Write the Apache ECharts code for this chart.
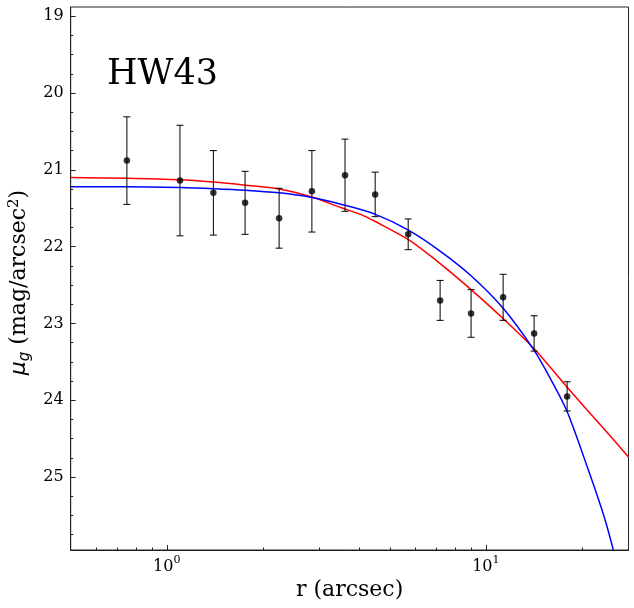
<!DOCTYPE html>
<html>
<head>
<meta charset="utf-8">
<script src="https://cdn.jsdelivr.net/npm/echarts@6/dist/echarts.min.js"></script>
<style>
html, body { margin: 0; padding: 0; background: #fff; }
#chart { width: 634px; height: 608px; }
</style>
</head>
<body>
<div id="chart"></div>
<script>
// measured profile (r in arcsec, mu_g in mag/arcsec^2)
var radius = [0.75, 1.10, 1.40, 1.76, 2.25, 2.85, 3.62, 4.50, 5.71, 7.19, 8.99, 11.33, 14.17, 17.98];
var mu = [20.88, 21.14, 21.30, 21.43, 21.63, 21.28, 21.07, 21.32, 21.84, 22.70, 22.87, 22.66, 23.13, 23.95];
var muErr = [0.57, 0.72, 0.55, 0.41, 0.39, 0.53, 0.47, 0.29, 0.20, 0.26, 0.31, 0.30, 0.23, 0.19];

// fitted model curves
var redR = [0.5, 0.75, 1.10, 1.40, 1.76, 2.25, 2.85, 3.51, 4.05, 4.49, 5.72, 7.24, 8.99, 11.35, 14.17, 17.99, 20.8, 25.1, 28.0];
var redMu = [21.10, 21.11, 21.13, 21.16, 21.20, 21.25, 21.355, 21.49, 21.58, 21.67, 21.91, 22.23, 22.56, 22.94, 23.33, 23.83, 24.13, 24.51, 24.74];
var blueR = [0.5, 0.75, 1.10, 1.40, 1.76, 2.25, 2.85, 3.51, 4.49, 5.72, 7.24, 8.99, 11.35, 14.17, 15.99, 17.99, 20.8, 23.5, 25.1];
var blueMu = [21.22, 21.22, 21.23, 21.245, 21.265, 21.30, 21.36, 21.447, 21.577, 21.786, 22.068, 22.38, 22.806, 23.35, 23.73, 24.15, 24.87, 25.52, 25.95];

var xMajor = [1, 10];
var xMinor = [0.6, 0.7, 0.8, 0.9, 2, 3, 4, 5, 6, 7, 8, 9, 20];
var yMajor = [19, 20, 21, 22, 23, 24, 25];
var yMinor = [19.25, 19.5, 19.75, 20.25, 20.5, 20.75, 21.25, 21.5, 21.75, 22.25, 22.5, 22.75,
  23.25, 23.5, 23.75, 24.25, 24.5, 24.75, 25.25, 25.5, 25.75];

var serif = 'DejaVu Serif';
var myChart = echarts.init(document.getElementById('chart'));

var points = radius.map(function (r, i) { return [r, mu[i]]; });
var bars = radius.map(function (r, i) { return [r, mu[i] - muErr[i], mu[i] + muErr[i]]; });

myChart.setOption({
	animation: false,
	backgroundColor: '#fff',
	title: {
		text: 'HW43',
		left: 102,
		top: 52,
		textStyle: { fontFamily: serif, fontSize: 35, fontWeight: 'normal', color: '#000' }
	},
	grid: {
		left: 70.7, right: 5.5, top: 7, bottom: 58, outerBoundsMode: 'none',
		show: true, borderColor: '#222', borderWidth: 1, backgroundColor: 'transparent'
	},
	xAxis: [{
		type: 'log', logBase: 10, min: 0.5, max: 28,
		name: 'r (arcsec)', nameLocation: 'middle', nameGap: 27,
		nameTextStyle: { fontFamily: serif, fontSize: 22, color: '#000' },
		axisLine: { lineStyle: { color: '#222', width: 1 } },
		axisTick: { inside: true, length: 5, customValues: xMajor, lineStyle: { color: '#222' } },
		axisLabel: {
			customValues: xMajor, margin: 5,
			fontFamily: serif, fontSize: 16, color: '#000',
			formatter: function (v) { return '10{sup|' + Math.round(Math.log10(v)) + '}'; },
			rich: { sup: { fontFamily: serif, fontSize: 11, color: '#000', padding: [0, 0, 12, 0] } }
		},
		splitLine: { show: false }
	}, {
		type: 'log', logBase: 10, min: 0.5, max: 28, position: 'bottom',
		axisLine: { show: false },
		axisTick: { inside: true, length: 2.5, customValues: xMinor, lineStyle: { color: '#222' } },
		axisLabel: { show: false },
		splitLine: { show: false }
	}],
	yAxis: [{
		type: 'value', inverse: true, min: 18.88, max: 25.95,
		name: '{mu|μ}{sub|g} (mag/arcsec{sup|2})', nameLocation: 'middle', nameGap: 34, nameRotate: 90,
		nameTextStyle: {
			fontFamily: serif, fontSize: 22, color: '#000', padding: [0, 8, 0, 0],
			rich: {
				mu: { fontFamily: 'DejaVu Sans', fontStyle: 'italic', fontSize: 22, color: '#000' },
				sub: { fontFamily: 'DejaVu Sans', fontStyle: 'italic', fontSize: 15, color: '#000', padding: [11, 0, 0, 0] },
				sup: { fontFamily: serif, fontSize: 15, color: '#000', padding: [0, 0, 11, 0] }
			}
		},
		axisLine: { show: true, lineStyle: { color: '#222', width: 1 } },
		axisTick: { show: true, inside: true, length: 5, customValues: yMajor, lineStyle: { color: '#222' } },
		axisLabel: { customValues: yMajor, margin: 7, fontFamily: serif, fontSize: 16, color: '#000' },
		splitLine: { show: false }
	}, {
		type: 'value', inverse: true, min: 18.88, max: 25.95, position: 'left', offset: 0,
		axisLine: { show: false },
		axisTick: { show: true, inside: true, length: 2.5, customValues: yMinor, lineStyle: { color: '#222' } },
		axisLabel: { show: false },
		splitLine: { show: false }
	}],
	series: [{
		type: 'line', data: redR.map(function (r, i) { return [r, redMu[i]]; }),
		showSymbol: false, smooth: 0.3, lineStyle: { color: '#ff0000', width: 1.5 }, z: 2
	}, {
		type: 'line', data: blueR.map(function (r, i) { return [r, blueMu[i]]; }),
		showSymbol: false, smooth: 0.3, lineStyle: { color: '#0000ff', width: 1.5 }, z: 2
	}, {
		type: 'custom', data: bars, z: 3,
		encode: { x: 0, y: [1, 2] },
		renderItem: function (params, api) {
			var top = api.coord([api.value(0), api.value(1)]);
			var bot = api.coord([api.value(0), api.value(2)]);
			var hw = 3.5, st = { stroke: '#000', lineWidth: 1 };
			return {
				type: 'group', children: [
					{ type: 'line', shape: { x1: top[0], y1: top[1], x2: bot[0], y2: bot[1] }, style: st },
					{ type: 'line', shape: { x1: top[0] - hw, y1: top[1], x2: top[0] + hw, y2: top[1] }, style: st },
					{ type: 'line', shape: { x1: bot[0] - hw, y1: bot[1], x2: bot[0] + hw, y2: bot[1] }, style: st }
				]
			};
		}
	}, {
		type: 'scatter', data: points, symbol: 'circle', symbolSize: 6.5, z: 4,
		itemStyle: { color: '#000' }
	}]
});
window.addEventListener('resize', function () {
	myChart.resize();
});
</script>
</body>
</html>
